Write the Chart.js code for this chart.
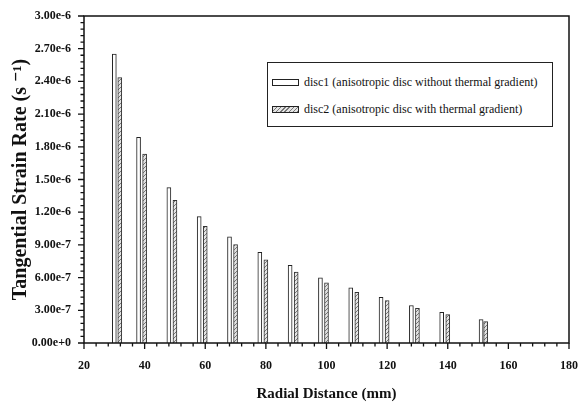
<!DOCTYPE html>
<html>
<head>
<meta charset="utf-8">
<script src="https://cdn.jsdelivr.net/npm/chart.js@4/dist/chart.umd.min.js"></script>
<style>
  body { margin: 0; background: #fff; }
  #wrap { position: relative; width: 587px; height: 404px; }
  #legend {
    position: absolute; left: 267px; top: 62px; width: 284px; height: 63px;
    border: 1px solid #222; background: #fff;
    font-family: "Liberation Serif", "Times New Roman", "DejaVu Serif", serif; font-size: 12px; color: #111;
  }
  .row { position: absolute; left: 4px; height: 16px; line-height: 16px; white-space: nowrap; }
  .sw { display: inline-block; width: 25px; height: 5px; border: 1px solid #222; vertical-align: middle; margin-right: 5px; position: relative; top: -1px; }
</style>
</head>
<body>
<div id="wrap">
  <canvas id="chart" width="587" height="404"></canvas>
  <div id="legend"></div>
</div>
<script>
// radial positions (mm) of each bar
const disc1Pos = [30, 38, 48, 58, 68, 78, 88, 98, 108, 118, 128, 138, 151];
const disc2Pos = [31.8, 40, 50, 60, 70, 80, 90, 100, 110, 120, 130, 140, 152.5];

// tangential strain rate (1/s)
const disc1Vals = [2.65e-6, 1.886e-6, 1.426e-6, 1.159e-6, 9.75e-7, 8.32e-7, 7.12e-7, 5.98e-7, 5.06e-7, 4.2e-7, 3.44e-7, 2.82e-7, 2.15e-7];
const disc2Vals = [2.435e-6, 1.733e-6, 1.31e-6, 1.071e-6, 9.02e-7, 7.64e-7, 6.5e-7, 5.52e-7, 4.64e-7, 3.9e-7, 3.19e-7, 2.61e-7, 1.97e-7];

const seriesLabels = [
    "disc1 (anisotropic disc without thermal gradient)",
    "disc2 (anisotropic disc with thermal gradient)"
];

const xMin = 20, xMax = 180, xStep = 20, xMinor = 4;
const yMin = 0, yMax = 3e-6, yStep = 3e-7, yMinor = 6e-8;

const serif = "'Liberation Serif', 'Times New Roman', 'DejaVu Serif', serif";

function hatch() {
    const c = document.createElement("canvas");
    c.width = 4; c.height = 4;
    const g = c.getContext("2d");
    g.fillStyle = "#e4e4e4";
    g.fillRect(0, 0, 4, 4);
    g.strokeStyle = "#777";
    g.lineWidth = 1;
    g.beginPath();
    g.moveTo(0, 4); g.lineTo(4, 0);
    g.stroke();
    return g.createPattern(c, "repeat");
}

function points(xs, ys) {
    return xs.map((x, i) => ({ x: x, y: ys[i] }));
}

// frame + major/minor ticks, positioned through the chart's own scales
const framePlugin = {
    id: "frame",
    afterDraw(chart) {
        const { ctx, chartArea: a, scales } = chart;
        ctx.save();
        ctx.strokeStyle = "#111";
        ctx.lineWidth = 1.5;
        ctx.strokeRect(a.left, a.top, a.right - a.left, a.bottom - a.top);

        ctx.lineWidth = 1.3;
        ctx.beginPath();
        for (let v = xMin; v <= xMax + 1e-9; v += xMinor) {
            const px = scales.x.getPixelForValue(v);
            const major = Math.abs((v - xMin) % xStep) < 1e-9;
            ctx.moveTo(px, a.bottom);
            ctx.lineTo(px, a.bottom + (major ? 6 : 3.5));
        }
        for (let i = 0; i * yMinor <= yMax + 1e-12; i++) {
            const py = scales.y.getPixelForValue(i * yMinor);
            const major = i % 5 === 0;
            ctx.moveTo(a.left, py);
            ctx.lineTo(a.left - (major ? 6 : 3.5), py);
        }
        ctx.stroke();
        ctx.restore();
    }
};

function drawChart() {
    const tickFont = { family: serif, size: 12, weight: "bold" };

    const chart = new Chart(document.getElementById("chart"), {
        type: "bar",
        data: {
            datasets: [{
                label: seriesLabels[0],
                data: points(disc1Pos, disc1Vals),
                backgroundColor: "#fff",
                borderColor: "#222",
                borderWidth: 1
            }, {
                label: seriesLabels[1],
                data: points(disc2Pos, disc2Vals),
                backgroundColor: hatch(),
                borderColor: "#333",
                borderWidth: 1
            }]
        },
        options: {
            responsive: false,
            animation: false,
            events: [],
            layout: { padding: { top: 16, right: 18, left: 0, bottom: 0 } },
            datasets: { bar: { barThickness: 4, grouped: false } },
            plugins: { legend: { display: false }, tooltip: { enabled: false } },
            scales: {
                x: {
                    type: "linear",
                    min: xMin, max: xMax,
                    offset: false,
                    afterFit: s => { s.height = 61; s.paddingLeft = 0; s.paddingRight = 0; },
                    grid: { display: false, drawTicks: false, offset: false },
                    border: { display: false },
                    ticks: {
                        stepSize: xStep,
                        padding: 16,
                        color: "#111",
                        font: tickFont,
                        maxRotation: 0
                    },
                    title: {
                        display: true,
                        text: "Radial Distance (mm)",
                        color: "#111",
                        font: { family: serif, size: 15, weight: "bold" },
                        padding: { top: 0, bottom: 1 }
                    }
                },
                y: {
                    min: yMin, max: yMax,
                    afterFit: s => { s.width = 84; s.paddingTop = 0; s.paddingBottom = 0; },
                    grid: { display: false, drawTicks: false },
                    border: { display: false },
                    ticks: {
                        stepSize: yStep,
                        padding: 13,
                        color: "#111",
                        font: tickFont,
                        callback: v => Number(v).toExponential(2)
                    },
                    title: {
                        display: true,
                        text: "Tangential Strain Rate (s \u207B\u00B9)",
                        color: "#111",
                        font: { family: serif, size: 20, weight: "bold" },
                        padding: { top: 9, bottom: 0 }
                    }
                }
            }
        },
        plugins: [framePlugin]
    });

    // legend built from the chart's datasets
    const legend = document.getElementById("legend");
    chart.data.datasets.forEach((ds, i) => {
        const row = document.createElement("div");
        row.className = "row";
        row.style.top = (i === 0 ? 11 : 38) + "px";
        const sw = document.createElement("span");
        sw.className = "sw";
        sw.style.background = i === 0 ? "#fff"
            : "repeating-linear-gradient(-45deg, #777 0 1px, #e4e4e4 1px 3px)";
        row.appendChild(sw);
        row.appendChild(document.createTextNode(ds.label));
        legend.appendChild(row);
    });
}

Promise.all([
    document.fonts.load("bold 12px 'Liberation Serif'"),
    document.fonts.load("12px 'Liberation Serif'")
]).catch(() => {}).then(drawChart);
</script>
</body>
</html>
